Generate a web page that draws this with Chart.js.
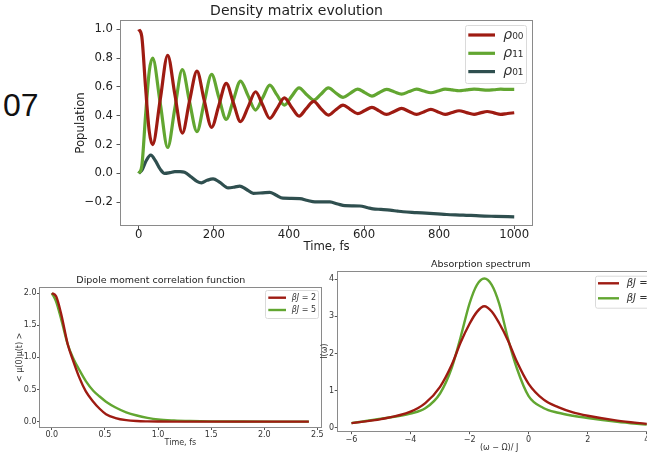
<!DOCTYPE html>
<html>
<head>
  <meta charset="utf-8">
  <title>Density matrix evolution</title>
  <style>
    html, body { margin: 0; padding: 0; background: #fff; overflow: hidden; }
    #page { position: relative; width: 647px; height: 456px; overflow: hidden; }
    canvas { position: absolute; }
    #label07 { position: absolute; left: 3px; top: 89px; font: 32px/32px "Liberation Sans", sans-serif; color: #111; }
  </style>
  <script src="https://cdn.jsdelivr.net/npm/chart.js"></script>
</head>
<body>
<div id="page">
  <div id="label07">07</div>
  <canvas id="rho-chart" width="490" height="256" style="left:60px;top:0"></canvas>
  <canvas id="dipole-chart" width="330" height="190" style="left:0;top:266px"></canvas>
  <canvas id="spec-chart" width="372" height="201" style="left:300px;top:255px"></canvas>
</div>
<script>
  // --- density matrix (time in fs) ---
  const rhoTime = [0, 8, 18, 28, 37, 57, 77, 96, 116, 135, 155, 174, 194, 213, 233, 252, 271, 291, 311, 330,
    349, 368, 388, 407, 427, 446, 466, 485, 505, 524, 544, 563, 583, 602, 621, 640, 660, 680, 700, 720,
    740, 759, 778, 797, 816, 835, 853, 873, 893, 910, 928, 946, 964, 982, 1000];
  const rho00 = [1.0, 0.95, 0.6, 0.29, 0.20, 0.51, 0.82, 0.55, 0.28, 0.50, 0.71, 0.51, 0.32, 0.47, 0.625, 0.49, 0.36, 0.46, 0.567, 0.475,
    0.382, 0.45, 0.525, 0.46, 0.398, 0.45, 0.50, 0.45, 0.405, 0.44, 0.474, 0.445, 0.415, 0.437, 0.458, 0.434, 0.41, 0.43, 0.451, 0.43,
    0.41, 0.427, 0.444, 0.427, 0.41, 0.423, 0.435, 0.422, 0.41, 0.42, 0.43, 0.42, 0.41, 0.416, 0.421];
  const rho11 = [0.0, 0.05, 0.4, 0.71, 0.80, 0.49, 0.18, 0.45, 0.72, 0.50, 0.29, 0.49, 0.687, 0.53, 0.375, 0.51, 0.641, 0.54, 0.44, 0.525,
    0.613, 0.545, 0.474, 0.535, 0.594, 0.55, 0.509, 0.55, 0.594, 0.56, 0.528, 0.556, 0.585, 0.561, 0.537, 0.56, 0.583, 0.567, 0.551, 0.568,
    0.585, 0.572, 0.56, 0.572, 0.585, 0.58, 0.574, 0.58, 0.585, 0.582, 0.578, 0.581, 0.585, 0.583, 0.583];
  const rho01Time = [0, 10, 20, 32, 45, 57, 69, 83, 96, 110, 122, 140, 155, 167, 182, 198, 215, 238, 255, 269,
    285, 305, 330, 349, 365, 384, 405, 429, 450, 469, 490, 509, 530, 549, 570, 589, 610, 624, 645, 669,
    690, 704, 740, 775, 820, 864, 908, 950, 1000];
  const rho01 = [0.0, 0.03, 0.09, 0.127, 0.085, 0.03, 0.0, 0.005, 0.012, 0.012, 0.008, -0.025, -0.055, -0.065, -0.048, -0.038, -0.06, -0.10, -0.095, -0.088,
    -0.108, -0.138, -0.135, -0.132, -0.15, -0.172, -0.173, -0.175, -0.188, -0.197, -0.197, -0.198, -0.212, -0.224, -0.225, -0.226, -0.238, -0.246, -0.25, -0.255,
    -0.262, -0.266, -0.272, -0.278, -0.285, -0.289, -0.295, -0.298, -0.301];
  const rhoXTicks = [0, 200, 400, 600, 800, 1000];
  const rhoYTicks = [-0.2, 0, 0.2, 0.4, 0.6, 0.8, 1.0];

  // --- dipole moment correlation function ---
  const dipTime = [0, 0.04, 0.09, 0.15, 0.2, 0.26, 0.32, 0.39, 0.45, 0.51, 0.6, 0.7, 0.8, 0.9, 1.0, 1.15, 1.3, 1.5, 1.8, 2.1, 2.42];
  const dipBeta2 = [2.0, 1.95, 1.66, 1.2, 0.95, 0.68, 0.47, 0.31, 0.2, 0.115, 0.055, 0.022, 0.008, 0.003, 0.001, 0, 0, 0, 0, 0, 0];
  const dipBeta5 = [2.0, 1.87, 1.58, 1.2, 0.99, 0.8, 0.63, 0.48, 0.39, 0.31, 0.22, 0.145, 0.095, 0.058, 0.032, 0.016, 0.008, 0.003, 0.001, 0, 0];
  const dipXTicks = [0, 0.5, 1, 1.5, 2, 2.5];
  const dipYTicks = [0, 0.5, 1, 1.5, 2];

  // --- absorption spectrum ---
  const specOmega = [-6, -5, -4, -3.5, -3, -2.6, -2.3, -2.0, -1.75, -1.5, -1.25, -1.0, -0.7, -0.4, 0, 0.5, 1, 1.5, 2, 3, 4];
  const specBeta2 = [0.12, 0.23, 0.43, 0.66, 1.1, 1.7, 2.3, 2.8, 3.12, 3.27, 3.13, 2.82, 2.35, 1.78, 1.18, 0.76, 0.55, 0.41, 0.32, 0.19, 0.1];
  const specBeta5 = [0.12, 0.24, 0.38, 0.52, 0.92, 1.62, 2.45, 3.35, 3.85, 4.02, 3.85, 3.35, 2.4, 1.6, 0.85, 0.53, 0.4, 0.32, 0.26, 0.16, 0.08];
  const specXTicks = [-6, -4, -2, 0, 2, 4];
  const specYTicks = [0, 1, 2, 3, 4];

  const RED = '#9e1b12', GREEN = '#62a631', SLATE = '#2f4f4f';
  Chart.defaults.font.family = '"DejaVu Sans", sans-serif';

  function pts(xs, ys) { return xs.map((x, i) => ({x: x, y: ys[i]})); }
  function minus(s) { return s.replace('-', '\u2212'); }

  // draws all four spines like matplotlib
  const frame = {
    id: 'frame',
    afterDatasetsDraw(chart, args, o) {
      const a = chart.chartArea, ctx = chart.ctx;
      ctx.save();
      ctx.strokeStyle = o.color;
      ctx.lineWidth = 1;
      ctx.strokeRect(Math.round(a.left) + 0.5, Math.round(a.top) + 0.5,
        Math.round(a.right - a.left) - 1, Math.round(a.bottom - a.top) - 1);
      ctx.restore();
    }
  };

  // boxed legend inside the axes
  const boxLegend = {
    id: 'boxLegend',
    afterDraw(chart, args, o) {
      const ctx = chart.ctx;
      ctx.save();
      ctx.fillStyle = 'rgba(255,255,255,0.85)';
      ctx.strokeStyle = '#dadada';
      ctx.lineWidth = 1;
      ctx.beginPath();
      if (ctx.roundRect) ctx.roundRect(o.x + 0.5, o.y + 0.5, o.w, o.h, 2);
      else ctx.rect(o.x + 0.5, o.y + 0.5, o.w, o.h);
      ctx.fill();
      ctx.stroke();
      chart.data.datasets.forEach((ds, i) => {
        const y = o.y + o.row0 + i * o.gap;
        ctx.strokeStyle = ds.borderColor;
        ctx.lineWidth = ds.borderWidth;
        ctx.beginPath();
        ctx.moveTo(o.x + o.lx, y);
        ctx.lineTo(o.x + o.lx + o.len, y);
        ctx.stroke();
        ctx.fillStyle = '#333';
        ctx.textBaseline = 'middle';
        const head = ds.label.slice(0, o.italic), tail = ds.label.slice(o.italic);
        ctx.font = 'italic ' + o.size + 'px "DejaVu Sans"';
        ctx.fillText(head, o.x + o.tx, y);
        const w = ctx.measureText(head).width;
        ctx.font = o.size + 'px "DejaVu Sans"';
        ctx.fillText(tail, o.x + o.tx + w, y);
      });
      ctx.restore();
    }
  };

  function axis(o) {
    return {
      type: 'linear',
      min: o.min,
      max: o.max,
      afterBuildTicks: s => { s.ticks = o.ticks.map(v => ({value: v})); },
      afterFit: s => { if (s.isHorizontal()) s.height = o.size; else s.width = o.size; },
      border: {display: false},
      grid: {drawOnChartArea: false, drawTicks: true, tickLength: o.tickLen, color: '#555', lineWidth: 1},
      ticks: {padding: o.pad, color: o.color, font: {size: o.font, lineHeight: 1}, callback: o.fmt, maxRotation: 0, autoSkip: false},
      title: {display: true, text: o.title, color: o.color, font: {size: o.titleSize}, padding: o.titlePad}
    };
  }

  function line(label, data, color, width) {
    return {label: label, data: data, borderColor: color, borderWidth: width, pointRadius: 0,
      fill: false, cubicInterpolationMode: 'monotone'};
  }

  function baseOptions(title, titleSize, titlePad, padding, legendOpts) {
    return {
      responsive: false,
      animation: false,
      devicePixelRatio: 1,
      layout: {padding: padding},
      plugins: {
        legend: {display: false},
        tooltip: {enabled: false},
        title: {display: true, text: title, color: '#222', font: {size: titleSize, weight: 'normal'}, padding: titlePad},
        frame: {color: '#8a8a8a'},
        boxLegend: legendOpts
      }
    };
  }

  // top chart
  const rhoOpts = baseOptions('Density matrix evolution', 14, {top: 3.2, bottom: 0},
    {left: 0, right: 17, top: 0, bottom: 0},
    {x: 405, y: 25, w: 61, h: 58, row0: 10, gap: 18.3, lx: 3.3, len: 26.7, tx: 38.3, size: 14, italic: 1});
  rhoOpts.scales = {
    x: axis({min: -50, max: 1050, ticks: rhoXTicks, size: 30, tickLen: 3, pad: 0, color: '#222', font: 11.7,
      fmt: v => String(v), title: 'Time, fs', titleSize: 11.7, titlePad: {top: 0, bottom: 2}}),
    y: axis({min: -0.365, max: 1.065, ticks: rhoYTicks, size: 60, tickLen: 3.5, pad: 3.5, color: '#222', font: 11.7,
      fmt: v => minus(v.toFixed(1)), title: 'Population', titleSize: 11.7, titlePad: {top: 13.5, bottom: 0}})
  };
  new Chart(document.getElementById('rho-chart'), {
    type: 'line',
    data: {datasets: [
      line('ρ₀₀', pts(rhoTime, rho00), RED, 3.2),
      line('ρ₁₁', pts(rhoTime, rho11), GREEN, 3.2),
      line('ρ₀₁', pts(rho01Time, rho01), SLATE, 3.2)
    ]},
    options: rhoOpts,
    plugins: [frame, boxLegend]
  });

  // bottom left chart
  const dipOpts = baseOptions('Dipole moment correlation function', 9.5, {top: 9.3, bottom: 0},
    {left: 0, right: 8.3, top: 0, bottom: 0},
    {x: 265, y: 24, w: 53, h: 28, row0: 7.7, gap: 12.3, lx: 3.3, len: 17.7, tx: 26.7, size: 8, italic: 2});
  dipOpts.scales = {
    x: axis({min: -0.121, max: 2.541, ticks: dipXTicks, size: 28, tickLen: 2, pad: 0.7, color: '#333', font: 8,
      fmt: v => v.toFixed(1), title: 'Time, fs', titleSize: 8, titlePad: {top: 0, bottom: 7.9}}),
    y: axis({min: -0.1, max: 2.1, ticks: dipYTicks, size: 39, tickLen: 2, pad: 0.5, color: '#333', font: 8,
      fmt: v => v.toFixed(1), title: '< μ(0)μ(t) >', titleSize: 8, titlePad: {top: 15.2, bottom: 0}})
  };
  new Chart(document.getElementById('dipole-chart'), {
    type: 'line',
    data: {datasets: [
      line('βJ = 2', pts(dipTime, dipBeta2), RED, 2.4),
      line('βJ = 5', pts(dipTime, dipBeta5), GREEN, 2.4)
    ]},
    options: dipOpts,
    plugins: [frame, boxLegend]
  });

  // bottom right chart
  const specOpts = baseOptions('Absorption spectrum', 9.5, {top: 4.3, bottom: 0},
    {left: 0, right: 10.5, top: 0, bottom: 0},
    {x: 295, y: 20.7, w: 80, h: 32, row0: 7.6, gap: 15, lx: 3, len: 21, tx: 31.7, size: 10, italic: 2});
  specOpts.scales = {
    x: axis({min: -6.5, max: 4.5, ticks: specXTicks, size: 24.3, tickLen: 2.5, pad: 1.3, color: '#333', font: 8,
      fmt: v => minus(String(v)), title: '(ω − Ω)/ J', titleSize: 8, titlePad: {top: 0, bottom: 3.5}}),
    y: axis({min: -0.11, max: 4.23, ticks: specYTicks, size: 36.7, tickLen: 2, pad: 0.7, color: '#333', font: 8,
      fmt: v => String(v), title: 'I(ω)', titleSize: 8, titlePad: {top: 20.2, bottom: 0}})
  };
  new Chart(document.getElementById('spec-chart'), {
    type: 'line',
    data: {datasets: [
      line('βJ = 2', pts(specOmega, specBeta2), RED, 2.4),
      line('βJ = 5', pts(specOmega, specBeta5), GREEN, 2.4)
    ]},
    options: specOpts,
    plugins: [frame, boxLegend]
  });
</script>
</body>
</html>
